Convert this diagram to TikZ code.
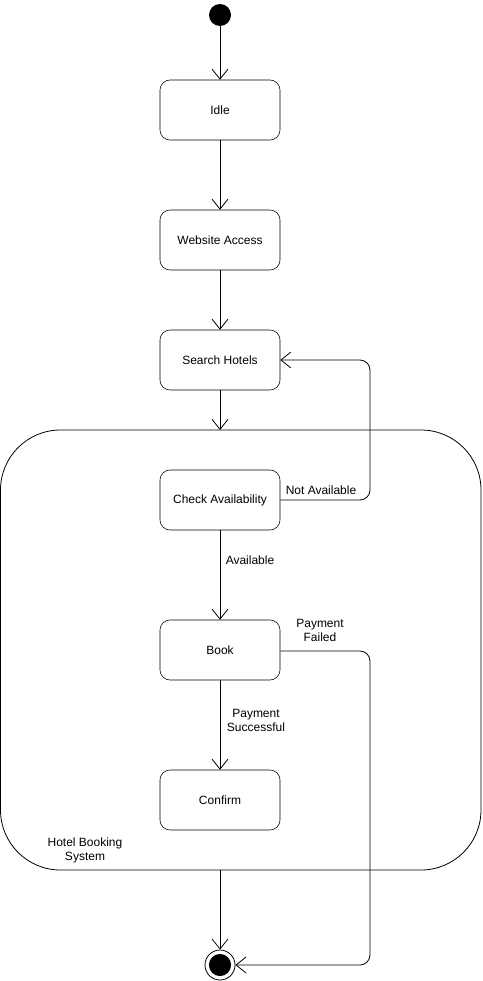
\documentclass[tikz,border=0pt]{standalone}
\usepackage{fontspec}
\setmainfont{Liberation Sans}
\usetikzlibrary{arrows.meta}

\tikzset{
    state/.style={draw, rounded corners=7.5pt, minimum width=90pt, minimum height=45pt, inner sep=0.75pt, font=\fontsize{9}{10.5}\selectfont},
    lbl/.style={inner sep=0.75pt, align=center, font=\fontsize{9}{10.5}\selectfont},
    trans/.style={-{Straight Barb[length=7.5pt,width=12pt]}, line width=0.6pt}
}

\begin{document}
\begin{tikzpicture}[x=0.75pt,y=0.75pt,yscale=-1,xscale=1]
    \useasboundingbox (0,0) rectangle (482,981);

    %Shape: Composite state
    \draw [rounded corners=45pt, line width=0.6pt] (0.5,430) rectangle (481,870);
    \node [lbl] (sysname) at (85,850) {Hotel Booking\\System};

    %Shape: Initial and final
    \node [circle, fill=black, minimum size=16.5pt, inner sep=0pt] (init) at (220,15) {};
    \node [circle, draw, line width=0.6pt, minimum size=22.5pt, inner sep=0pt] (final) at (220,965) {};
    \fill (final.center) circle (8.3pt);

    %Shape: States
    \node [state] (idle) at (220,110) {Idle};
    \node [state] (access) at (220,240) {Website Access};
    \node [state] (search) at (220,360) {Search Hotels};
    \node [state] (check) at (220,500) {Check Availability};
    \node [state] (book) at (220,650) {Book};
    \node [state] (confirm) at (220,800) {Confirm};

    \coordinate (systop) at (220,430);
    \coordinate (sysbot) at (220,870);

    %Straight Lines
    \draw [trans] (init) -- (idle);
    \draw [trans] (idle) -- (access);
    \draw [trans] (access) -- (search);
    \draw [trans] (search) -- (systop);
    \draw [trans] (check) -- (book);
    \draw [trans] (book) -- (confirm);
    \draw [trans] (sysbot) -- (final);
    %Connectors
    \draw [trans, rounded corners=7.5pt] (check.east) -- (370,500) -- (370,360) -- (search.east);
    \draw [trans, rounded corners=7.5pt] (book.east |- 0,651) -- (370,651) -- (370,965) -- (final.east);

    % Text Node
    \node [lbl] (notavail) at (321,490) {Not Available};
    % Text Node
    \node [lbl] (avail) at (250,560) {Available};
    % Text Node
    \node [lbl] (failed) at (320,630) {Payment\\Failed};
    % Text Node
    \node [lbl] (success) at (256,720) {Payment\\Successful};
\end{tikzpicture}
\end{document}
